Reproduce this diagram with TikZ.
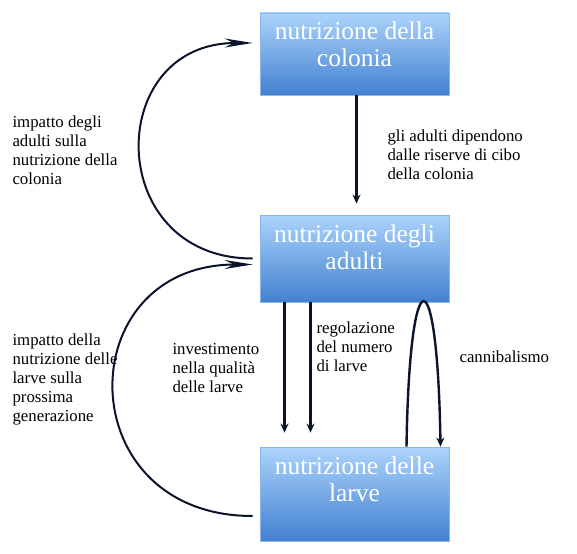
\documentclass[tikz,border=0pt]{standalone}
\definecolor{boxtop}{RGB}{172, 212, 251}
\definecolor{boxbot}{RGB}{66, 128, 208}
\definecolor{boxedge}{RGB}{140, 182, 232}
\definecolor{linecol}{RGB}{10, 20, 42}
\usepackage{tikz}
\usepackage{xcolor}
\usepackage{fontspec}
\setmainfont{Liberation Serif}
\usetikzlibrary{arrows.meta, positioning, calc}

\begin{document}
\begin{tikzpicture}[x=1pt, y=-1pt,
    box/.style={draw=boxedge, line width=0.8, top color=boxtop, bottom color=boxbot,
                minimum width=189, inner ysep=4, text=white, align=center,
                font=\fontsize{25.5}{27}\selectfont, text height=50},
    lbl/.style={anchor=west, align=left, font=\fontsize{16.8}{19}\selectfont},
    link/.style={-{Stealth[length=9, width=8]}, line width=2.4, draw=linecol},
    bow/.style={-{Stealth[length=28, width=9]}, line width=2, draw=linecol}]
    \useasboundingbox (0,0) rectangle (577,553);

    % Boxes
    \node[box, text depth=24] (colonia) at (354.5, 54) {nutrizione della\\colonia};
    \node[box, text depth=29] (adulti) at (354.5, 258.5) {nutrizione degli\\adulti};
    \node[box, text depth=36] (larve) at (354.5, 494) {nutrizione delle\\larve};

    % Labels
    \node[lbl] (impcol) at (9, 150) {impatto degli\\adulti sulla\\nutrizione della\\colonia};
    \node[lbl] (riserve) at (384, 155) {gli adulti dipendono\\dalle riserve di cibo\\della colonia};
    \node[lbl] (implar) at (9, 379) {impatto della\\nutrizione delle\\larve sulla\\prossima\\generazione};
    \node[lbl] (invest) at (169, 368) {investimento\\nella qualità\\delle larve};
    \node[lbl] (regol) at (313, 347) {regolazione\\del numero\\di larve};
    \node[lbl] (cannib) at (456, 357) {cannibalismo};

    % Arrows
    \draw[link, shorten >=11] ([xshift=2]colonia.south) -- ([xshift=2]adulti.north);
    \draw[link, shorten >=14] ([xshift=-70]adulti.south) -- ([xshift=-70]larve.north);
    \draw[link, shorten >=14] ([xshift=-44]adulti.south) -- ([xshift=-44]larve.north);
    \draw[link] ([xshift=52]larve.north) .. controls +(3,-193) and +(-3,-193) .. ([xshift=86]larve.north);

    % Feedback bows
    \draw[bow] ([xshift=-7]adulti.west) .. controls +(-149,0) and +(-149,0) .. ([xshift=-7, yshift=11]colonia.west);
    \draw[bow] ([xshift=-7, yshift=-22]larve.west) .. controls +(-184,0) and +(-184,0) .. ([xshift=-7, yshift=-6]adulti.west);
\end{tikzpicture}
\end{document}
